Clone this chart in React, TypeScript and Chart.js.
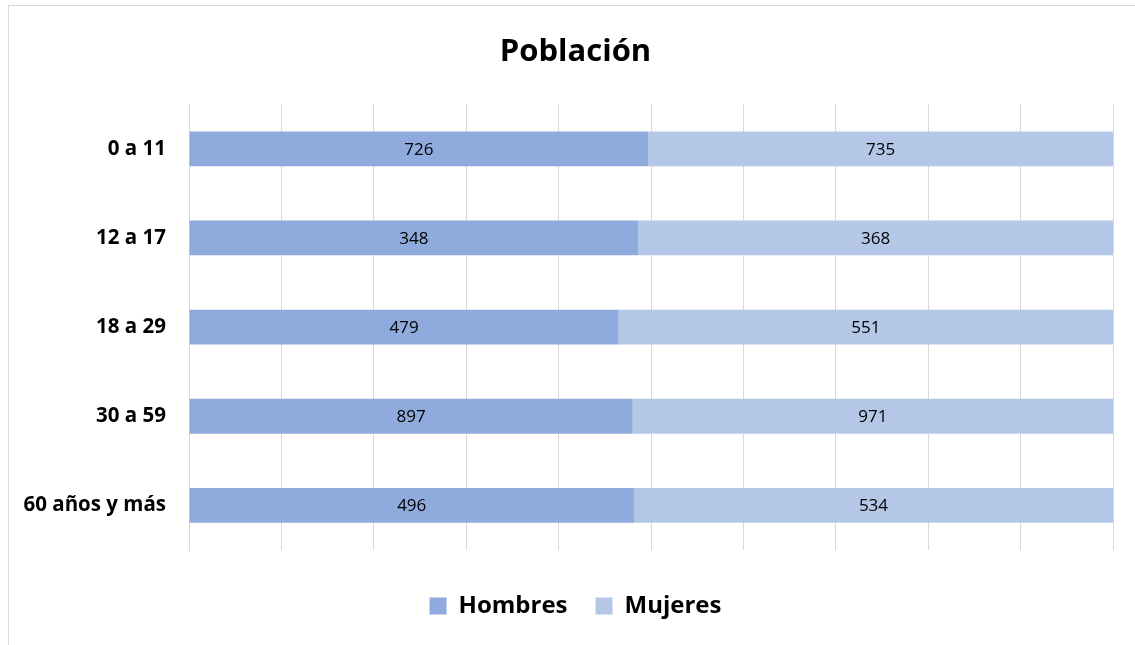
import React, { useEffect, useRef } from "react";
import { Chart, registerables } from "chart.js";

Chart.register(...registerables);

const categories = ["0 a 11", "12 a 17", "18 a 29", "30 a 59", "60 años y más"];
const hombres = [726, 348, 479, 897, 496];
const mujeres = [735, 368, 551, 971, 534];
const seriesNames = ["Hombres", "Mujeres"];
const xTicks = [0, 10, 20, 30, 40, 50, 60, 70, 80, 90, 100];

const FONT = "'Open Sans', Lato, sans-serif";

export default function App() {
  const ref = useRef<HTMLCanvasElement | null>(null);

  useEffect(() => {
    if (!ref.current) return;
    const totals = hombres.map((h, i) => h + mujeres[i]);
    const raw = [hombres, mujeres];

    const labelPlugin = {
      id: "segLabels",
      afterLayout(chart: any) {
        // let the category labels use the space left of the layout padding
        chart.scales.y.left = 0;
      },
      afterDatasetsDraw(chart: any) {
        const ctx = chart.ctx;
        ctx.save();
        ctx.font = `normal 17px ${FONT}`;
        ctx.fillStyle = "#000000";
        ctx.textAlign = "center";
        ctx.textBaseline = "middle";
        chart.data.datasets.forEach((_ds: any, di: number) => {
          const meta = chart.getDatasetMeta(di);
          meta.data.forEach((bar: any, i: number) => {
            const cx = (bar.x + bar.base) / 2;
            ctx.fillText(String(raw[di][i]), cx, bar.y + 1);
          });
        });
        ctx.restore();
      },
    };

    const chart = new Chart(ref.current, {
      type: "bar",
      data: {
        labels: categories,
        datasets: [
          {
            label: seriesNames[0],
            data: hombres.map((v, i) => (v / totals[i]) * 100),
            backgroundColor: "#8FAADC",
            borderWidth: 0,
            categoryPercentage: 1,
            barPercentage: 0.39,
          },
          {
            label: seriesNames[1],
            data: mujeres.map((v, i) => (v / totals[i]) * 100),
            backgroundColor: "#B4C7E7",
            borderWidth: 0,
            categoryPercentage: 1,
            barPercentage: 0.39,
          },
        ],
      },
      options: {
        indexAxis: "y",
        animation: false,
        responsive: false,
        devicePixelRatio: 1,
        layout: { padding: { left: 38, right: 22, top: 33, bottom: 17 } },
        plugins: {
          title: {
            display: true,
            text: "Población",
            color: "#000000",
            font: { family: FONT, size: 31, weight: "bold", lineHeight: 1.2 },
            padding: { top: 1, bottom: 33 },
          },
          legend: {
            position: "bottom",
            labels: {
              color: "#000000",
              font: { family: FONT, size: 24, weight: "bold" },
              boxWidth: 17,
              boxHeight: 17,
              padding: 28,
            },
          },
          tooltip: { enabled: false },
        },
        scales: {
          x: {
            stacked: true,
            min: 0,
            max: 100,
            afterBuildTicks: (scale: any) => {
              scale.ticks = xTicks.map((v) => ({ value: v }));
            },
            afterFit: (scale: any) => {
              scale.height = 16;
            },
            ticks: { display: false },
            grid: { display: true, color: "#D9D9D9", lineWidth: 1, drawTicks: false },
            border: { display: false },
          },
          y: {
            stacked: true,
            afterFit: (scale: any) => {
              scale.width = 151;
            },
            ticks: {
              color: "#000000",
              padding: 23,
              font: { family: FONT, size: 20.5, weight: "bold" },
            },
            grid: { display: false, drawTicks: false },
            border: { display: true, color: "#D9D9D9", width: 1 },
          },
        },
      },
      plugins: [labelPlugin],
    });
    return () => chart.destroy();
  }, []);

  return (
    <div
      style={{
        position: "fixed",
        left: 0,
        top: 0,
        width: 1135,
        height: 645,
        background: "#ffffff",
        overflow: "hidden",
      }}
    >
      <div
        style={{
          position: "absolute",
          left: 8,
          top: 5,
          width: 1150,
          height: 660,
          border: "1px solid #D9D9D9",
          boxSizing: "border-box",
        }}
      />
      <canvas
        ref={ref}
        width={1135}
        height={645}
        style={{ position: "absolute", left: 0, top: 0, width: 1135, height: 645 }}
      />
    </div>
  );
}
